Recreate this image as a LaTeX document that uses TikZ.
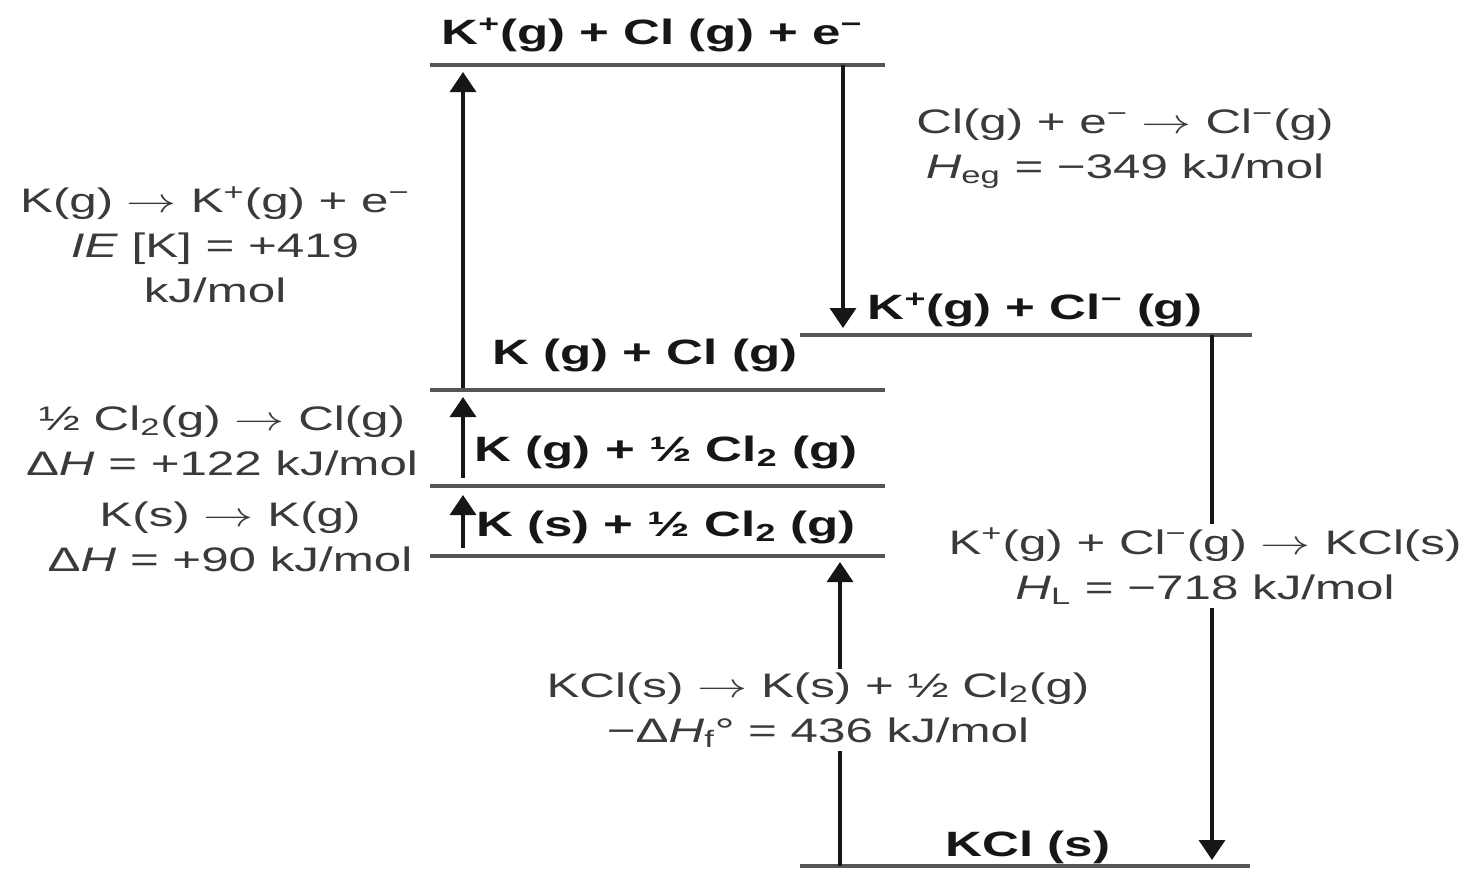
\documentclass[tikz,border=0pt]{standalone}
\usepackage{graphicx}
\usepackage{fontspec}
\setmainfont{Liberation Sans}[FakeStretch=1.45]
\usetikzlibrary{arrows.meta}
\definecolor{Ink}{HTML}{161616}
\definecolor{Label}{HTML}{3A3A3A}
\definecolor{Level}{HTML}{555555}
\newcommand{\yields}{\scalebox{1.45}[1]{$\rightarrow$}}
\tikzset{
  level/.style={Level,line width=1.6pt},
  jump/.style={-{Triangle[width=13pt,length=10pt]},Ink,line width=1.7pt},
  species/.style={font=\fontsize{17.6}{22}\selectfont\bfseries,text=Ink,inner sep=1pt},
  process/.style={font=\fontsize{17}{22.5}\selectfont,text=Label,align=center,fill=white,inner sep=2pt},
}
\begin{document}
\begin{tikzpicture}[x=0.5pt,y=-0.5pt]
\useasboundingbox (0,0) rectangle (1472,869);
% energy levels
\coordinate (ion3-l) at (430,65);  \coordinate (ion3-r) at (885,65);
\coordinate (ion2-l) at (800,335); \coordinate (ion2-r) at (1252,335);
\coordinate (gas-l) at (430,390);  \coordinate (gas-r) at (885,390);
\coordinate (half-l) at (430,486); \coordinate (half-r) at (885,486);
\coordinate (std-l) at (430,556);  \coordinate (std-r) at (885,556);
\coordinate (salt-l) at (800,866); \coordinate (salt-r) at (1250,866);
\draw[level] (ion3-l) -- (ion3-r);
\draw[level] (ion2-l) -- (ion2-r);
\draw[level] (gas-l) -- (gas-r);
\draw[level] (half-l) -- (half-r);
\draw[level] (std-l) -- (std-r);
\draw[level] (salt-l) -- (salt-r);
% species on the levels
\node[species] (ion3) at (652,35) {K\textsuperscript{+}(g) + Cl (g) + e\textsuperscript{−}};
\node[species] (ion2) at (1035,310) {K\textsuperscript{+}(g) + Cl\textsuperscript{−} (g)};
\node[species] (gas) at (645,355) {K (g) + Cl (g)};
\node[species] (half) at (666,452) {K (g) + ½ Cl\textsubscript{2} (g)};
\node[species] (std) at (666,527) {K (s) + ½ Cl\textsubscript{2} (g)};
\node[species] (salt) at (1028,847) {KCl (s)};
% arrow ends
\coordinate (sub-a) at (463,548); \coordinate (sub-b) at (463,495);
\coordinate (dis-a) at (463,478); \coordinate (dis-b) at (463,397);
\coordinate (ie-a) at (463,388);  \coordinate (ie-b) at (463,72);
\coordinate (ea-a) at (843,65);   \coordinate (ea-b) at (843,328);
\coordinate (lat-a) at (1212,335); \coordinate (lat-b) at (1212,860);
\coordinate (form-a) at (840,866); \coordinate (form-b) at (840,562);
\draw[jump] (sub-a) -- (sub-b);
\draw[jump] (dis-a) -- (dis-b);
\draw[jump] (ie-a) -- (ie-b);
\draw[jump] (ea-a) -- (ea-b);
\draw[jump] (lat-a) -- (lat-b);
\draw[jump] (form-a) -- (form-b);
% steps
\node[process] (ie) at (215,245) {K(g) \yields{} K\textsuperscript{+}(g) + e\textsuperscript{−}\\\textit{IE} [K] = +419\\kJ/mol};
\node[process] (dis) at (222,441) {½ Cl\textsubscript{2}(g) \yields{} Cl(g)\\Δ\textit{H} = +122 kJ/mol};
\node[process] (sub) at (230,537) {K(s) \yields{} K(g)\\Δ\textit{H} = +90 kJ/mol};
\node[process] (ea) at (1125,149) {Cl(g) + e\textsuperscript{−} \yields{} Cl\textsuperscript{−}(g)\\\textit{H}\textsubscript{eg} = −349 kJ/mol};
\node[process] (lat) at (1205,566) {K\textsuperscript{+}(g) + Cl\textsuperscript{−}(g) \yields{} KCl(s)\\\textit{H}\textsubscript{L} = −718 kJ/mol};
\node[process] (form) at (818,710) {KCl(s) \yields{} K(s) + ½ Cl\textsubscript{2}(g)\\−Δ\textit{H}\textsubscript{f}° = 436 kJ/mol};
\end{tikzpicture}
\end{document}
